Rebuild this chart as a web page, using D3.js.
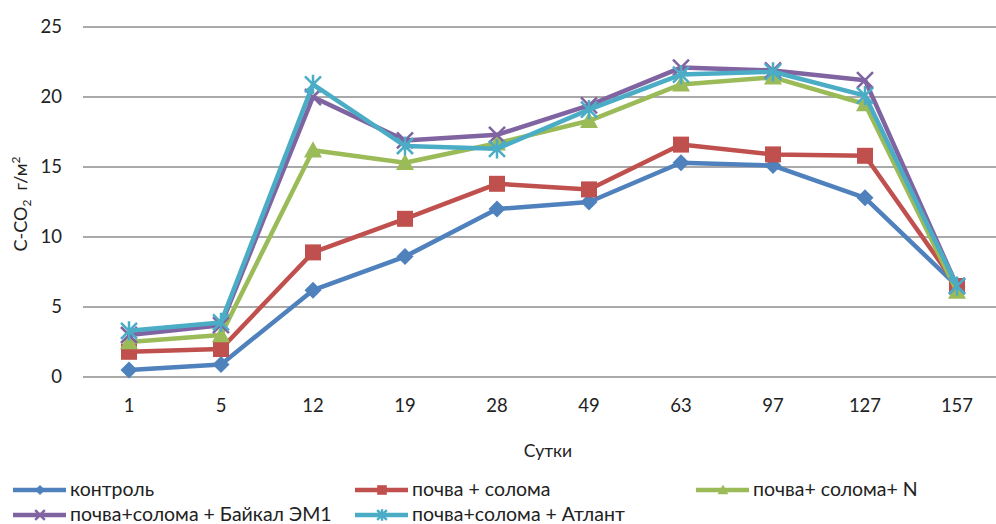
<!DOCTYPE html>
<html><head><meta charset="utf-8">
<script src="https://cdn.jsdelivr.net/npm/d3@7"></script>
<style>body{margin:0;background:#fff}svg{display:block}text{font-family:Lato,"Open Sans",sans-serif;fill:#222}</style>
</head><body><svg id="c" width="996" height="524"></svg>
<script>
const categories = ["1","5","12","19","28","49","63","97","127","157"];
const yTicks = [0,5,10,15,20,25];
const seriesNames = ["контроль","почва + солома","почва+ солома+ N","почва+солома + Байкал ЭМ1","почва+солома + Атлант"];
const control   = [0.5,0.9,6.2,8.6,12.0,12.5,15.3,15.1,12.8,6.5];
const straw     = [1.8,2.0,8.9,11.3,13.8,13.4,16.6,15.9,15.8,6.5];
const strawN    = [2.5,3.0,16.2,15.3,16.7,18.3,20.9,21.4,19.5,6.1];
const baikal    = [3.0,3.7,20.0,16.9,17.3,19.4,22.1,21.9,21.2,6.5];
const atlant    = [3.3,3.9,20.9,16.5,16.3,19.1,21.6,21.8,20.1,6.5];
const colors = ["#4F81BD","#C0504D","#9BBB59","#8064A2","#4BACC6"];
const markers = ["diamond","square","triangle","x","star"];
const allSeries = [control,straw,strawN,baikal,atlant];

const svg = d3.select("#c");
const pL = 83, pR = 1003, pT = 27, pB = 377;
const x = d3.scaleBand().domain(categories).range([pL,pR]);
const y = d3.scaleLinear().domain([0,25]).range([pB,pT]);

svg.append("g").selectAll("line").data(yTicks).join("line")
  .attr("x1",pL).attr("x2",pR).attr("y1",d=>y(d)).attr("y2",d=>y(d))
  .attr("stroke","#8c8c8c").attr("stroke-width",1.3);
svg.append("g").selectAll("text").data(yTicks).join("text")
  .attr("x",62).attr("y",d=>y(d)).attr("dy","0.35em").attr("text-anchor","end")
  .attr("font-size",18.5).text(d=>d);
svg.append("g").selectAll("text").data(categories).join("text")
  .attr("x",d=>x(d)+x.bandwidth()/2).attr("y",406).attr("dy","0.35em").attr("text-anchor","middle")
  .attr("font-size",18.5).text(d=>d);
svg.append("text").attr("x",548).attr("y",451).attr("dy","0.35em").attr("text-anchor","middle").attr("font-size",17.5).text("Сутки");
const yt = svg.append("text").attr("transform","translate(27,204) rotate(-90)").attr("text-anchor","middle").attr("font-size",18);
yt.append("tspan").text("C-CO");
yt.append("tspan").attr("font-size",12).attr("dy",4).text("2");
yt.append("tspan").attr("dy",-4).text("\u00a0\u00a0г/м");
yt.append("tspan").attr("font-size",12).attr("dy",-7).text("2");

function drawMarker(g, type, color, cx, cy, s) {
  s = s || 1;
  if (type==="diamond") {
    const r=8.5*s;
    g.append("path").attr("d",`M${cx},${cy-r}L${cx+r},${cy}L${cx},${cy+r}L${cx-r},${cy}Z`).attr("fill",color);
  } else if (type==="square") {
    const r=8*s;
    g.append("rect").attr("x",cx-r).attr("y",cy-r).attr("width",2*r).attr("height",2*r).attr("fill",color);
  } else if (type==="triangle") {
    const r=9*s;
    g.append("path").attr("d",`M${cx},${cy-r}L${cx+r},${cy+r*0.8}L${cx-r},${cy+r*0.8}Z`).attr("fill",color);
  } else if (type==="x") {
    const r=8*s;
    g.append("path").attr("d",`M${cx-r},${cy-r}L${cx+r},${cy+r}M${cx+r},${cy-r}L${cx-r},${cy+r}`).attr("stroke",color).attr("stroke-width",2.5);
  } else if (type==="star") {
    const r=8*s;
    g.append("path").attr("d",`M${cx-r},${cy-r}L${cx+r},${cy+r}M${cx+r},${cy-r}L${cx-r},${cy+r}M${cx},${cy-r*1.2}L${cx},${cy+r*1.2}`).attr("stroke",color).attr("stroke-width",2.5);
  }
}

const line = d3.line().x((d,i)=>x(categories[i])+x.bandwidth()/2).y(d=>y(d));
allSeries.forEach((data,si)=>{
  const g = svg.append("g");
  g.append("path").datum(data).attr("d",line).attr("fill","none").attr("stroke",colors[si]).attr("stroke-width",4.5).attr("stroke-linejoin","round");
  data.forEach((v,i)=>drawMarker(g,markers[si],colors[si],x(categories[i])+x.bandwidth()/2,y(v)));
});

const legendPos = [[13,490],[355,490],[696,490],[13,515],[355,515]];
seriesNames.forEach((n,si)=>{
  const [lx,ly] = legendPos[si];
  const g = svg.append("g");
  g.append("line").attr("x1",lx).attr("x2",lx+53).attr("y1",ly).attr("y2",ly).attr("stroke",colors[si]).attr("stroke-width",4.5);
  drawMarker(g,markers[si],colors[si],lx+27,ly,0.6);
  g.append("text").attr("x",lx+57).attr("y",ly).attr("dy","0.33em").attr("font-size",19.5).text(n);
});
</script></body></html>
